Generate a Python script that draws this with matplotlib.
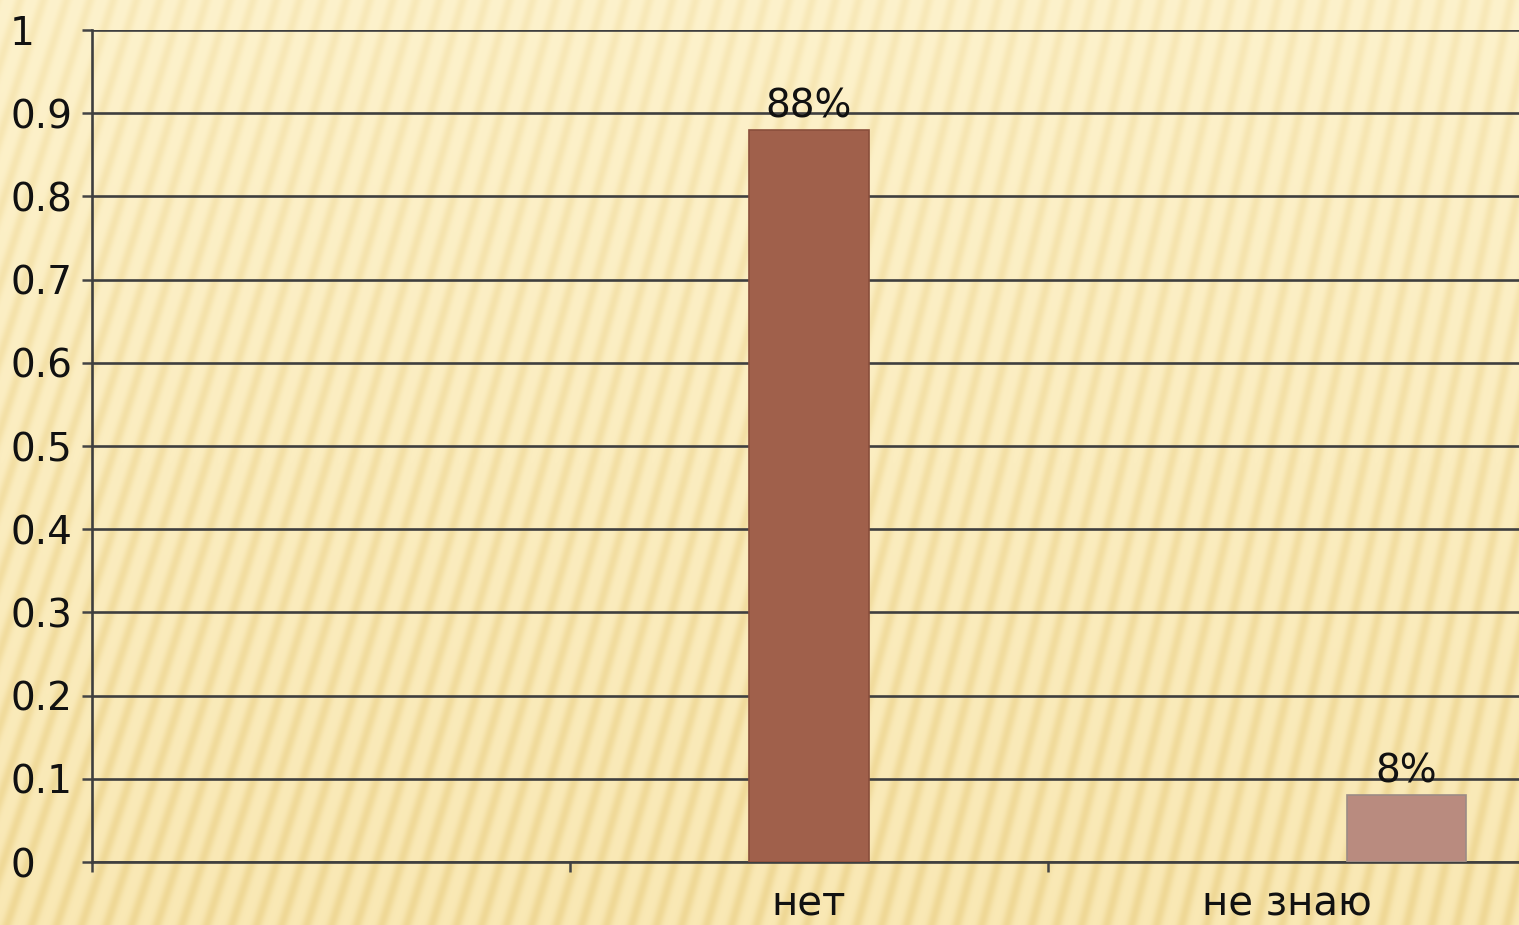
import numpy as np
import matplotlib.pyplot as plt

# data
categories = ["", "нет", "не знаю"]
bar_categories = [1, 2]          # which category each visible bar belongs to
bar_series = [1, 2]              # series index (0, 1, 2) inside the group
bar_values = [0.88, 0.08]
bar_labels = ["88%", "8%"]
bar_colors = ["#A0604B", "#B98B7F"]
bar_edges = ["#8A4E3C", "#9C8C86"]
yticks = [0, 0.1, 0.2, 0.3, 0.4, 0.5, 0.6, 0.7, 0.8, 0.9, 1]
ytick_labels = ["0", "0.1", "0.2", "0.3", "0.4", "0.5", "0.6", "0.7", "0.8", "0.9", "1"]

plt.rcParams['font.family'] = ['DejaVu Sans']

W, H = 1519, 925
fig = plt.figure(figsize=(W / 100, H / 100), dpi=100)

# striped background (decoration only)
yy, xx = np.mgrid[0:H, 0:W].astype(float)
slant = 0.22 + 0.12 * (1 - xx / W)
phase = (xx - slant * (H - yy)) * 2 * np.pi / 25
t = ((1 + np.sin(phase)) / 2) ** 2
light = np.array([253, 242, 204]) / 255
light_bot = np.array([249, 232, 180]) / 255
dark = np.array([236, 211, 140]) / 255
g = (yy / H)[..., None]
base = light * (1 - g) + light_bot * g
amt = (0.3 + 0.45 * g) * t[..., None]
img = base * (1 - amt) + dark * amt
fig.figimage(img, xo=0, yo=0, origin='upper', zorder=-5)

ax = fig.add_axes([92 / W, 63 / H, (1526 - 92) / W, 832 / H])
ax.set_facecolor('none')

width = 0.25
for cat, ser, val, lab, col, ec in zip(bar_categories, bar_series, bar_values,
                                        bar_labels, bar_colors, bar_edges):
    x = cat + (ser - 1) * width
    ax.bar(x, val, width=width, color=col, edgecolor=ec, linewidth=1.2, zorder=3)
    ax.annotate(lab, (x, val), xytext=(0, 9), textcoords='offset points',
                ha='center', va='baseline', fontsize=28, color='#111111', zorder=4)

ax.set_xlim(-0.5, 2.5)
ax.set_ylim(0, 1)

ax.set_yticks(yticks)
ax.set_yticklabels(ytick_labels)
for lbl in ax.get_yticklabels():
    lbl.set_horizontalalignment('left')
ax.tick_params(axis='y', direction='out', length=7, width=1.8, color='#444444',
               labelsize=28, pad=52, labelcolor='#111111')
ax.yaxis.grid(True, color='#3F3F3F', linewidth=1.9, zorder=1)
ax.set_axisbelow(True)

ax.set_xticks([-0.5, 0.5, 1.5])
ax.set_xticklabels([])
ax.set_xticks(range(len(categories)), minor=True)
ax.set_xticklabels(categories, minor=True)
ax.tick_params(axis='x', which='major', direction='out', length=7, width=1.8, color='#444444')
ax.tick_params(axis='x', which='minor', length=0, labelsize=29, pad=16, labelcolor='#111111')

for s in ['top', 'right']:
    ax.spines[s].set_visible(False)
for s in ['left', 'bottom']:
    ax.spines[s].set_color('#3F3F3F')
    ax.spines[s].set_linewidth(1.9)

fig.savefig("out.png", dpi=100)
